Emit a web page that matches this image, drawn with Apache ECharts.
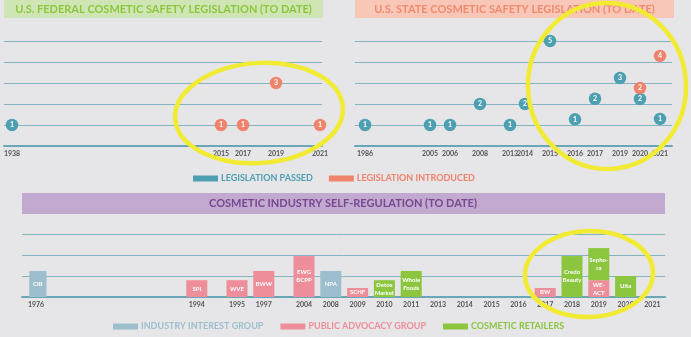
<!DOCTYPE html>
<html><head><meta charset="utf-8">
<script src="https://cdn.jsdelivr.net/npm/echarts@6/dist/echarts.min.js"></script>
<style>html,body{margin:0;padding:0;background:#e6e5e8;}#c{width:691px;height:337px;}</style>
</head><body><div id="c"></div>
<script>
const blanks = n => Array(n).fill('');

// ---- Federal legislation (timeline tick labels, blanks keep the designer's spacing)
const fedCategories = ['1938', ...blanks(18), '2015', '', '2017', ...blanks(2), '2019', ...blanks(3), '2021'];
// [year, plotted height, count shown]
const fedPassed = [['1938', 1, 1]];
const fedIntroduced = [['2015', 1, 1], ['2017', 1, 1], ['2019', 3, 3], ['2021', 1, 1]];

// ---- State legislation
const stateCategories = ['1986', ...blanks(12), '2005', ...blanks(3), '2006', ...blanks(5), '2008', ...blanks(5),
  '2013', ...blanks(2), '2014', ...blanks(4), '2015', ...blanks(4), '2016', ...blanks(3), '2017', ...blanks(4),
  '2019', ...blanks(3), '2020', ...blanks(3), '2021', ...blanks(2)];
const statePassed = [['1986', 1, 1], ['2005', 1, 1], ['2006', 1, 1], ['2008', 2, 2], ['2013', 1, 1], ['2014', 2, 2],
  ['2015', 5, 5], ['2016', 1.27, 1], ['2017', 2.25, 2], ['2019', 3.24, 3], ['2020', 2.24, 2], ['2021', 1.29, 1]];
const stateIntroduced = [['2020', 2.76, 2], ['2021', 4.29, 4]];

// ---- Industry self-regulation
const selfCategories = ['1976', ...blanks(11), '1994', ...blanks(2), '1995', '', '1997', ...blanks(2), '2004', '',
  '2008', '', '2009', '', '2010', '', '2011', '', '2013', '', '2014', '', '2015', '', '2016', '', '2017', '',
  '2018', '', '2019', '', '2020', '', '2021'];
// [year, label, height]
const industryBars = [['1976', 'CIR', 1.24], ['2008', 'NPA', 1.24]];
const advocacyBars = [['1994', 'SPI', 0.8], ['1995', 'WVE', 0.8], ['1997', 'BWW', 1.24], ['2004', 'EWG\nBCPP', 1.95],
  ['2009', 'SCHF', 0.43], ['2017', 'BW', 0.43], ['2019', 'WE-\nACT', 0.8]];
const retailerBars = [['2010', 'Detox\nMarket', 0.8], ['2011', 'Whole\nFoods', 1.24], ['2018', 'Credo\nBeauty', 1.95],
  ['2019', 'Sepho-\nra', 1.53], ['2020', 'Ulta', 1.0]];

const TEAL = '#4d9fb2', SALMON = '#f0836b', BLUE = '#9dbfcd', PINK = '#ee8e9b', GREEN = '#8cc63f';
const LINE = '#82b3c0', AXIS = '#6ba6b6', FONT = 'Lato';

function barData(list) {
  const m = {};
  list.forEach(d => { m[d[0]] = { value: d[2], text: d[1] }; });
  return selfCategories.map(c => (c && m[c]) ? m[c] : '-');
}
function lineX(gi) {
  return { type: 'value', gridIndex: gi, min: 0, max: 1, axisLabel: { show: false }, axisTick: { show: false },
    splitLine: { show: false }, axisLine: { show: true, lineStyle: { color: AXIS, width: 2 } } };
}
function lineY(gi, max) {
  return { type: 'value', gridIndex: gi, min: 0, max: max, interval: 1, axisLabel: { show: false },
    axisLine: { show: false }, axisTick: { show: false }, splitLine: { show: true, lineStyle: { color: LINE, width: 1 } } };
}
function markX(gi, cats) {
  return { type: 'category', gridIndex: gi, data: cats, boundaryGap: true, axisLine: { show: false },
    axisTick: { show: false }, splitLine: { show: false },
    axisLabel: { interval: 0, color: '#555555', fontSize: 7, fontWeight: 'bold', fontFamily: FONT, margin: 4 } };
}
function markY(gi, max) {
  return { type: 'value', gridIndex: gi, min: 0, max: max, show: false };
}
const dotLabel = { show: true, position: 'inside', formatter: p => p.value[2], color: '#fff', fontSize: 7,
  fontWeight: 'bold', fontFamily: FONT };
function dots(name, data, ax, color) {
  return { type: 'scatter', name: name, xAxisIndex: ax, yAxisIndex: ax, data: data, symbolSize: 12.5,
    itemStyle: { color: color, opacity: 1 }, label: dotLabel, z: 5 };
}
const barLabel = { show: true, position: 'inside', formatter: p => p.data.text, color: '#fff', fontSize: 6,
  fontWeight: 'bold', fontFamily: FONT, lineHeight: 8 };
function bars(name, list, color) {
  return { type: 'bar', name: name, stack: 'self', xAxisIndex: 5, yAxisIndex: 5, barWidth: 21,
    data: barData(list), itemStyle: { color: color }, label: barLabel, z: 3 };
}

const chart = echarts.init(document.getElementById('c'), null, { renderer: 'canvas' });
chart.setOption({
  backgroundColor: '#e6e5e8',
  animation: false,
  textStyle: { fontFamily: FONT },
  grid: [
    { left: 4, top: 41, width: 318, height: 105 },
    { left: 6.5, top: 41, width: 319, height: 105 },
    { left: 355, top: 41, width: 317, height: 105 },
    { left: 362.5, top: 41, width: 310, height: 105 },
    { left: 22, top: 234, width: 643, height: 63 },
    { left: 29.3, top: 234, width: 629.8, height: 63 }
  ],
  xAxis: [lineX(0), markX(1, fedCategories), lineX(2), markX(3, stateCategories), lineX(4), markX(5, selfCategories)],
  yAxis: [lineY(0, 5), markY(1, 5), lineY(2, 5), markY(3, 5), lineY(4, 3), markY(5, 3)],
  legend: [
    { left: 188, top: 169, icon: 'rect', itemWidth: 25, itemHeight: 6, itemGap: 16,
      textStyle: { fontSize: 9, fontWeight: 'bold', fontFamily: FONT, padding: [0, 0, 0, -2] },
      data: [{ name: 'LEGISLATION PASSED', textStyle: { color: TEAL } },
             { name: 'LEGISLATION INTRODUCED', textStyle: { color: SALMON } }] },
    { left: 108, top: 317, icon: 'rect', itemWidth: 25, itemHeight: 6, itemGap: 17,
      textStyle: { fontSize: 9, fontWeight: 'bold', fontFamily: FONT, padding: [0, 0, 0, -2] },
      data: [{ name: 'INDUSTRY INTEREST GROUP', textStyle: { color: BLUE } },
             { name: 'PUBLIC ADVOCACY GROUP', textStyle: { color: PINK } },
             { name: 'COSMETIC RETAILERS', textStyle: { color: GREEN } }] }
  ],
  series: [
    dots('LEGISLATION PASSED', fedPassed, 1, TEAL),
    dots('LEGISLATION INTRODUCED', fedIntroduced, 1, SALMON),
    dots('LEGISLATION PASSED', statePassed, 3, TEAL),
    dots('LEGISLATION INTRODUCED', stateIntroduced, 3, SALMON),
    bars('INDUSTRY INTEREST GROUP', industryBars, BLUE),
    bars('PUBLIC ADVOCACY GROUP', advocacyBars, PINK),
    bars('COSMETIC RETAILERS', retailerBars, GREEN)
  ],
  graphic: [
    { type: 'rect', shape: { x: 4, y: 0, width: 319, height: 18 }, style: { fill: '#cfe6b4' }, z: 0 },
    { type: 'text', x: 163.5, y: 9, style: { text: 'U.S. FEDERAL COSMETIC SAFETY LEGISLATION (TO DATE)', fill: '#8cc63f',
      font: 'bold 11px Lato', align: 'center', verticalAlign: 'middle' }, z: 1 },
    { type: 'rect', shape: { x: 355, y: 0, width: 319, height: 18 }, style: { fill: '#f9c7b7' }, z: 0 },
    { type: 'text', x: 514.5, y: 9, style: { text: 'U.S. STATE COSMETIC SAFETY LEGISLATION (TO DATE)', fill: '#f08a6e',
      font: 'bold 11px Lato', align: 'center', verticalAlign: 'middle' }, z: 1 },
    { type: 'rect', shape: { x: 22, y: 193, width: 643, height: 21 }, style: { fill: '#c2a9cf' }, z: 0 },
    { type: 'text', x: 343, y: 203.5, style: { text: 'COSMETIC INDUSTRY SELF-REGULATION (TO DATE)', fill: '#774790',
      font: 'bold 11px Lato', align: 'center', verticalAlign: 'middle' }, z: 1 },
    { type: 'ellipse', x: 259, y: 113, rotation: 0.07, shape: { cx: 0, cy: 0, rx: 84, ry: 50 },
      style: { fill: 'none', stroke: '#f2eb33', lineWidth: 4.5 }, z: 100 },
    { type: 'ellipse', x: 607, y: 86, rotation: 0.05, shape: { cx: 0, cy: 0, rx: 79, ry: 83 },
      style: { fill: 'none', stroke: '#f2eb33', lineWidth: 4.5 }, z: 100 },
    { type: 'ellipse', x: 589, y: 274, rotation: 0.03, shape: { cx: 0, cy: 0, rx: 64, ry: 43 },
      style: { fill: 'none', stroke: '#f2eb33', lineWidth: 4.5 }, z: 100 }
  ]
});
</script></body></html>
